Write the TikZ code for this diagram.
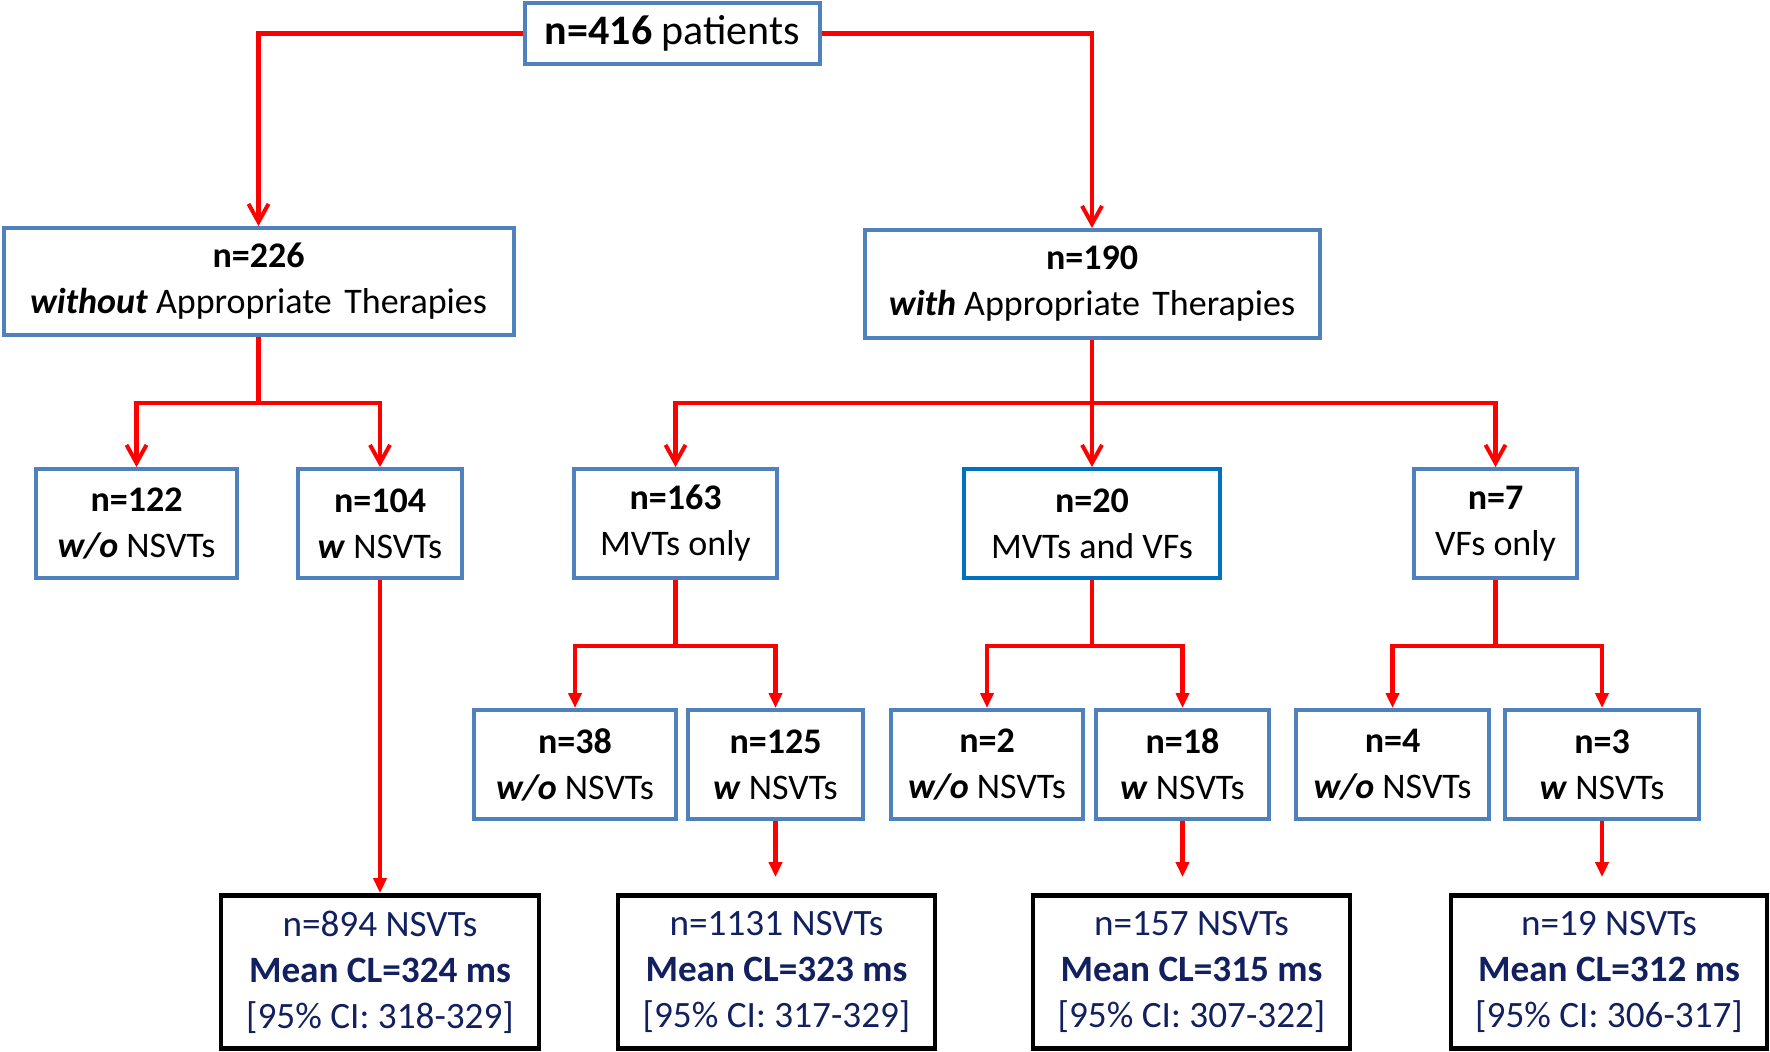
\documentclass[tikz,border=0pt]{standalone}
\usepackage{fontspec}
\setmainfont{Carlito}
\usetikzlibrary{arrows.meta}
\definecolor{boxblue}{RGB}{79,129,189}
\definecolor{deepblue}{RGB}{0,112,192}
\definecolor{navytext}{RGB}{18,32,96}
\definecolor{linered}{RGB}{255,0,0}
\begin{document}
\begin{tikzpicture}[x=0.5pt,y=-0.5pt,>={Straight Barb[length=9pt,width=10pt,line width=2pt]},
    box/.style={draw=boxblue,line width=2pt,align=center,inner sep=0pt,
        font=\fontsize{18}{23}\selectfont},
    resbox/.style={draw=black,line width=2.4pt,align=center,inner sep=0pt,
        text=navytext,font=\fontsize{18.6}{23}\selectfont,
        minimum height=76.5pt},
    link/.style={draw=linered,line width=2.1pt},
    tri/.style={-{Triangle[length=7.5pt,width=6.5pt]}}]
\useasboundingbox (0,0) rectangle (1770,1051);
    % top begin
\node[box,minimum width=147.5pt,minimum height=30.5pt,font=\fontsize{21}{25}\selectfont]
    (top) at (672.5,33.5) {\textbf{n=416} patients};
\node[box,minimum width=255pt,minimum height=53.5pt] (w226) at (258.5,281.5)
    {\textbf{n=226}\\\textbf{\textit{without}} Appropriate\hspace{.12em} Therapies};
\node[box,minimum width=227.5pt,minimum height=54pt] (w190) at (1092,284)
    {\textbf{n=190}\\\textbf{\textit{with}} Appropriate\hspace{.12em} Therapies};
    % top end
\node[box,minimum width=100.5pt,minimum height=54.5pt] (n122) at (136.5,523.5)
    {\textbf{n=122}\\\textbf{\textit{w/o}} NSVTs};
\node[box,minimum width=82pt,minimum height=54.5pt] (n104) at (380,523.5)
    {\textbf{n=104}\\\textbf{\textit{w}} NSVTs};
\node[box,minimum width=101.5pt,minimum height=54.5pt] (n163) at (675.5,523.5)
    {\textbf{n=163}\\MVTs only};
\node[box,draw=deepblue,minimum width=128pt,minimum height=54.5pt] (n20) at (1092,523.5)
    {\textbf{n=20}\\MVTs and VFs};
\node[box,minimum width=81.5pt,minimum height=54.5pt] (n7) at (1495.5,523.5)
    {\textbf{n=7}\\VFs only};
    % fourth row
\node[box,minimum width=101pt,minimum height=54.5pt] (n38) at (575,764.5)
    {\textbf{n=38}\\\textbf{\textit{w/o}} NSVTs};
\node[box,minimum width=87.5pt,minimum height=54.5pt] (n125) at (775.5,764.5)
    {\textbf{n=125}\\\textbf{\textit{w}} NSVTs};
\node[box,minimum width=96pt,minimum height=54.5pt] (n2) at (987,764.5)
    {\textbf{n=2}\\\textbf{\textit{w/o}} NSVTs};
\node[box,minimum width=86.5pt,minimum height=54.5pt] (n18) at (1182.5,764.5)
    {\textbf{n=18}\\\textbf{\textit{w}} NSVTs};
\node[box,minimum width=96.5pt,minimum height=54.5pt] (n4) at (1392.5,764.5)
    {\textbf{n=4}\\\textbf{\textit{w/o}} NSVTs};
\node[box,minimum width=97pt,minimum height=54.5pt] (n3) at (1602,764.5)
    {\textbf{n=3}\\\textbf{\textit{w}} NSVTs};
    % results
\node[resbox,minimum width=159pt] (c894) at (380,972)
    {n=894 NSVTs\\\textbf{Mean CL=324 ms}\\{[95\% CI: 318-329]}};
\node[resbox,minimum width=158.5pt] (c1131) at (776.5,972)
    {n=1131 NSVTs\\\textbf{Mean CL=323 ms}\\{[95\% CI: 317-329]}};
\node[resbox,minimum width=158.5pt] (c157) at (1191.5,972)
    {n=157 NSVTs\\\textbf{Mean CL=315 ms}\\{[95\% CI: 307-322]}};
\node[resbox,minimum width=158pt] (c19) at (1609,972)
    {n=19 NSVTs\\\textbf{Mean CL=312 ms}\\{[95\% CI: 306-317]}};
    % links
\draw[link,->] (top.west) -| (w226.north);
\draw[link,->] (top.east) -| (w190.north);
\coordinate (j226) at (w226.south |- 0,403);
\coordinate (j190) at (w190.south |- 0,403);
\coordinate (j163) at (n163.south |- 0,646);
\coordinate (j20) at (n20.south |- 0,646);
\coordinate (j7) at (n7.south |- 0,646);
\draw[link] (w226.south) -- (j226);
\draw[link,->] (j226) -| (n122.north);
\draw[link,->] (j226) -| (n104.north);
\draw[link,->] (w190.south) -- (n20.north);
\draw[link,->] (j190) -| (n163.north);
\draw[link,->] (j190) -| (n7.north);
\draw[link] (n163.south) -- (j163);
\draw[link,tri] (j163) -| (n38.north);
\draw[link,tri] (j163) -| (n125.north);
\draw[link] (n20.south) -- (j20);
\draw[link,tri] (j20) -| (n2.north);
\draw[link,tri] (j20) -| (n18.north);
\draw[link] (n7.south) -- (j7);
\draw[link,tri] (j7) -| (n4.north);
\draw[link,tri] (j7) -| (n3.north);
\draw[link,tri] (n104.south) -- (c894.north);
\draw[link,tri,shorten >=8pt] (n125.south) -- (n125.south |- c1131.north);
\draw[link,tri,shorten >=8pt] (n18.south) -- (n18.south |- c157.north);
\draw[link,tri,shorten >=8pt] (n3.south) -- (n3.south |- c19.north);
\end{tikzpicture}
\end{document}
